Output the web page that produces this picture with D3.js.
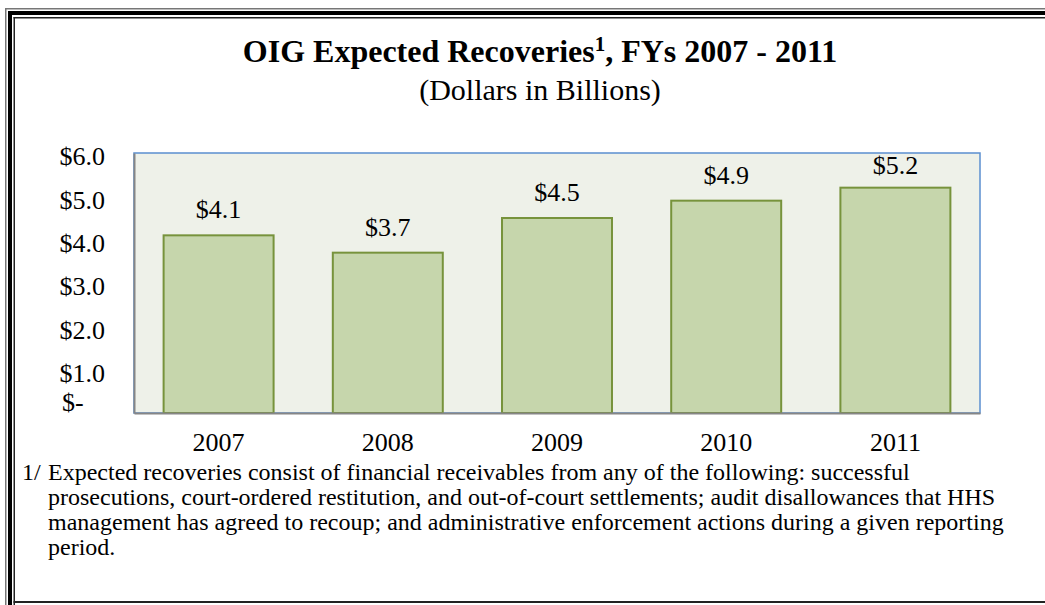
<!DOCTYPE html>
<html>
<head>
<meta charset="utf-8">
<script src="https://cdn.jsdelivr.net/npm/d3@7"></script>
<style>
  body { margin: 0; background: #fff; }
  svg { display: block; }
  text { font-family: "Liberation Serif", "Times New Roman", serif; fill: #000; }
</style>
</head>
<body>
<svg id="chart" width="1045" height="605"></svg>
<script>
const YEARS = ["2007", "2008", "2009", "2010", "2011"];
const RECOVERIES = [4.1, 3.7, 4.5, 4.9, 5.2];
const Y_TICKS = [0, 1, 2, 3, 4, 5, 6];

const TITLE = "OIG Expected Recoveries";
const TITLE_SUP = "1";
const TITLE_REST = ", FYs 2007 - 2011";
const SUBTITLE = "(Dollars in Billions)";

const NOTE_MARK = "1/";
const NOTE_LINES = [
    "Expected recoveries consist of financial receivables from any of the following: successful",
    "prosecutions, court-ordered restitution, and out-of-court settlements; audit disallowances that HHS",
    "management has agreed to recoup; and administrative enforcement actions during a given reporting",
    "period."
];

const W = 1045, H = 605;
const PLOT = {left: 134, right: 980, top: 153, bottom: 413};

let svg = d3.select("#chart");

// page frame (left + top triple rule, single rule at the bottom)
let frame = svg.append("g").attr("class", "frame");
frame.append("rect").attr("x", 5).attr("y", 8).attr("width", 1.5).attr("height", H).attr("fill", "#777");
frame.append("rect").attr("x", 8).attr("y", 11).attr("width", 4).attr("height", H).attr("fill", "#000");
frame.append("rect").attr("x", 13.5).attr("y", 17).attr("width", 1.5).attr("height", H).attr("fill", "#222");
frame.append("rect").attr("x", 5).attr("y", 8).attr("width", W).attr("height", 1.5).attr("fill", "#777");
frame.append("rect").attr("x", 8).attr("y", 11).attr("width", W).attr("height", 4).attr("fill", "#000");
frame.append("rect").attr("x", 13.5).attr("y", 17).attr("width", W).attr("height", 1.5).attr("fill", "#222");
frame.append("rect").attr("x", 13.5).attr("y", 601).attr("width", W).attr("height", 2).attr("fill", "#222");

// title block
let title = svg.append("text")
    .attr("x", 540).attr("y", 62)
    .attr("text-anchor", "middle")
    .style("font-size", "32px")
    .style("font-weight", "bold");
title.append("tspan").text(TITLE);
title.append("tspan").text(TITLE_SUP)
    .style("font-size", "21px")
    .attr("dy", -11);
title.append("tspan").text(TITLE_REST).attr("dy", 11);

svg.append("text")
    .attr("x", 540).attr("y", 100)
    .attr("text-anchor", "middle")
    .style("font-size", "30px")
    .text(SUBTITLE);

// scales
let x = d3.scaleBand()
    .domain(YEARS)
    .range([PLOT.left, PLOT.right])
    .paddingInner(0.35)
    .paddingOuter(0.175);

let y = d3.scaleLinear()
    .domain([0, 6])
    .range([PLOT.bottom, PLOT.top]);

// plot area
svg.append("rect")
    .attr("x", PLOT.left).attr("y", PLOT.top)
    .attr("width", PLOT.right - PLOT.left)
    .attr("height", PLOT.bottom - PLOT.top)
    .attr("fill", "#eef1e9")
    .attr("stroke", "#5b8fd0")
    .attr("stroke-width", 1.5);

// bars
let data = YEARS.map((yr, i) => ({year: yr, value: RECOVERIES[i]}));

svg.append("g").attr("class", "bars")
    .selectAll("rect")
    .data(data)
    .enter().append("rect")
        .attr("x", d => x(d.year))
        .attr("y", d => y(d.value))
        .attr("width", x.bandwidth())
        .attr("height", d => y(0) - y(d.value))
        .attr("fill", "#c6d6ac")
        .attr("stroke", "#77933c")
        .attr("stroke-width", 2);

// value labels, kept inside the plot area like Excel does
svg.append("g").attr("class", "labels")
    .selectAll("text")
    .data(data)
    .enter().append("text")
        .attr("x", d => x(d.year) + x.bandwidth() / 2)
        .attr("y", d => Math.max(y(d.value) - 17, PLOT.top + 21))
        .attr("text-anchor", "middle")
        .style("font-size", "26px")
        .text(d => "$" + d.value.toFixed(1));

// axes
let yAxis = d3.axisLeft(y)
    .tickValues(Y_TICKS)
    .tickSize(0)
    .tickPadding(29)
    .tickFormat(d => d === 0 ? "$-" : "$" + d.toFixed(1));

let yG = svg.append("g")
    .attr("class", "axis axis-y")
    .attr("transform", `translate(${PLOT.left},0)`)
    .call(yAxis);

let xAxis = d3.axisBottom(x)
    .tickSize(0)
    .tickPadding(20);

let xG = svg.append("g")
    .attr("class", "axis axis-x")
    .attr("transform", `translate(0,${PLOT.bottom})`)
    .call(xAxis);

[yG, xG].forEach(g => {
    g.select(".domain").attr("stroke", "#868686").attr("stroke-width", 2);
    g.selectAll(".tick text")
        .attr("fill", "#000")
        .style("font-family", "\"Liberation Serif\", \"Times New Roman\", serif")
        .style("font-size", "26px");
});

// y labels sit a touch below their gridline in the original
yG.selectAll(".tick text").attr("dy", "0.45em");

// accounting-style zero: dollar sign on the left, dash lifted a bit
yG.selectAll(".tick")
    .filter(d => d === 0)
    .select("text")
        .attr("text-anchor", "start")
        .attr("x", 62 - PLOT.left)
        .attr("dy", "-0.1em");

// footnote
let note = svg.append("g").attr("class", "footnote")
    .style("font-size", "24px");

note.append("text")
    .attr("x", 22).attr("y", 480)
    .text(NOTE_MARK);

note.selectAll("text.line")
    .data(NOTE_LINES)
    .enter().append("text")
        .attr("class", "line")
        .attr("x", 48)
        .attr("y", (d, i) => 480 + i * 25)
        .text(d => d);
</script>
</body>
</html>
